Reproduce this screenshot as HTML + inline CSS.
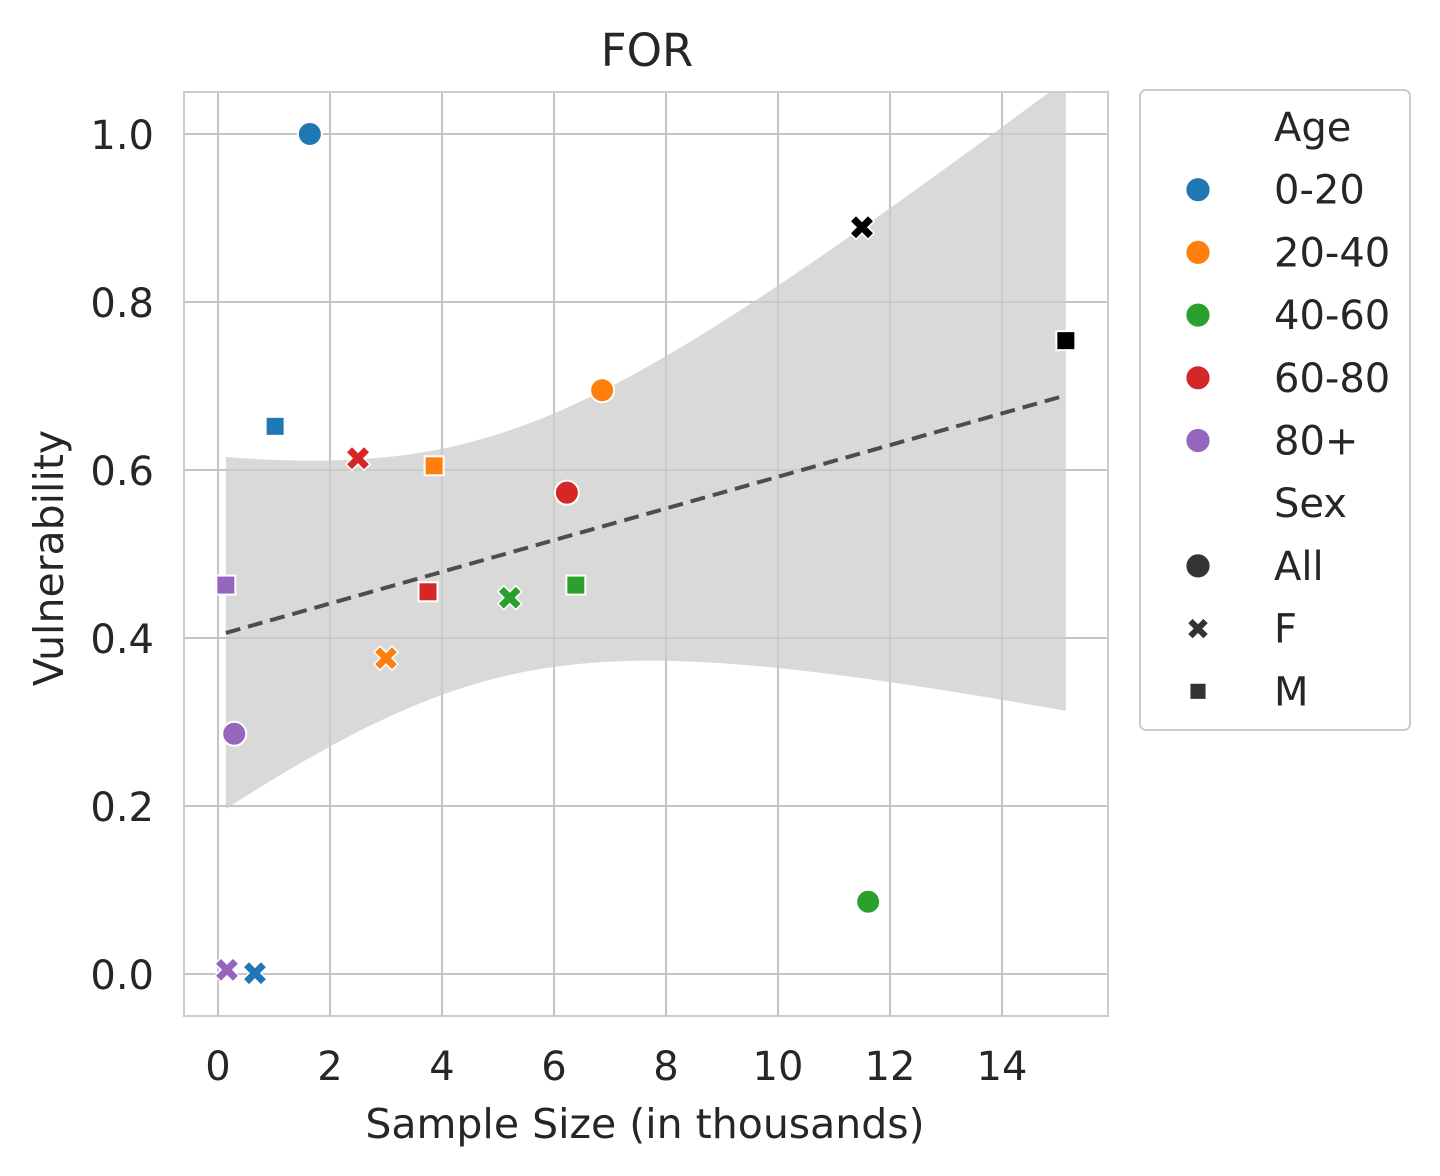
<!DOCTYPE html>
<html><head><meta charset="utf-8"><style>
body{margin:0;background:#fff;}
svg{display:block;font-family:"DejaVu Sans","Liberation Sans",sans-serif;}
</style></head><body>
<svg id="chart" width="1440" height="1176"></svg>
<script>
const groups=["0-20","20-40","40-60","60-80","80+","Overall"];
const groupColors=["#1f77b4","#ff7f0e","#2ca02c","#d62728","#9467bd","#000000"];
const sexes=["All","F","M"];
const pointGroup=[0,0,0,1,1,1,2,2,2,3,3,3,4,4,4,5,5];
const pointSex=["All","M","F","All","M","F","All","F","M","All","F","M","All","M","F","F","M"];
const sampleSize=[1.64,1.02,0.66,6.86,3.86,3.0,11.61,5.21,6.39,6.23,2.5,3.75,0.29,0.14,0.16,11.5,15.14];
const vulnerability=[1.0,0.652,0.001,0.695,0.605,0.376,0.086,0.448,0.463,0.573,0.614,0.455,0.286,0.463,0.005,0.889,0.754];
const xTicks=[0,2,4,6,8,10,12,14];
const yTicks=[0.0,0.2,0.4,0.6,0.8,1.0];

const NS="http://www.w3.org/2000/svg";
const svg=document.getElementById('chart');
function el(t,a,p){const e=document.createElementNS(NS,t);for(const k in a)e.setAttribute(k,a[k]);(p||svg).appendChild(e);return e;}
const L=184,R=1108,T=92,B=1016;
const xs=v=>218+v*56;
const ys=v=>974-v*840;
const defs=el('defs',{});
const cp=el('clipPath',{id:'clip'},defs);el('rect',{x:L,y:T,width:R-L,height:B-T},cp);

xTicks.forEach(t=>{const g=el('line',{x1:xs(t),x2:xs(t),y1:T,y2:B,stroke:'#cccccc','stroke-width':2});

const lb=el('text',{x:xs(t),y:1080,'text-anchor':'middle','font-size':40,fill:'#262626'});lb.textContent=t;
});
yTicks.forEach(t=>{const g=el('line',{x1:L,x2:R,y1:ys(t),y2:ys(t),stroke:'#cccccc','stroke-width':2});

const lb=el('text',{x:154,y:ys(t)+15,'text-anchor':'end','font-size':40,fill:'#262626'});lb.textContent=t.toFixed(1);
});

const n=sampleSize.length;
const mx=sampleSize.reduce((a,b)=>a+b)/n,my=vulnerability.reduce((a,b)=>a+b)/n;
let sxx=0,sxy=0;for(let i=0;i<n;i++){sxx+=(sampleSize[i]-mx)**2;sxy+=(sampleSize[i]-mx)*(vulnerability[i]-my);}
const b1=sxy/sxx,b0=my-b1*mx;
let sse=0;for(let i=0;i<n;i++)sse+=(vulnerability[i]-b0-b1*sampleSize[i])**2;
const s=Math.sqrt(sse/(n-2)),tq=2.131;
const xmin=Math.min(...sampleSize),xmax=Math.max(...sampleSize);
const up=[],lo=[];
for(let k=0;k<=60;k++){const x=xmin+(xmax-xmin)*k/60;const yh=b0+b1*x;const h=tq*s*Math.sqrt(1/n+(x-mx)**2/sxx);
up.push(xs(x)+','+ys(yh+h));lo.push(xs(x)+','+ys(yh-h));}
const band=el('polygon',{points:up.concat(lo.reverse()).join(' '),fill:'#d9d9d9','clip-path':'url(#clip)'});

xTicks.forEach(t=>el('line',{x1:xs(t),x2:xs(t),y1:T,y2:B,stroke:'#bbbbbb','stroke-width':2,'stroke-opacity':0.5}));
yTicks.forEach(t=>el('line',{x1:L,x2:R,y1:ys(t),y2:ys(t),stroke:'#bbbbbb','stroke-width':2,'stroke-opacity':0.5}));
const rl=el('line',{x1:xs(xmin),y1:ys(b0+b1*xmin),x2:xs(xmax),y2:ys(b0+b1*xmax),stroke:'#4d4d4d','stroke-width':4,'stroke-dasharray':'15,8'});

const frame=el('rect',{x:L,y:T,width:R-L,height:B-T,fill:'none',stroke:'#cccccc','stroke-width':2});


function marker(sex,cx,cy,color,parent,scale){
  scale=scale||1;let m;
  if(sex==='All'){m=el('circle',{cx,cy,r:12*scale,fill:color,stroke:'#fff','stroke-width':2},parent);}
  else if(sex==='M'){const h=9.5*scale;m=el('rect',{x:cx-h,y:cy-h,width:2*h,height:2*h,fill:color,stroke:'#fff','stroke-width':2},parent);}
  else{const a=12*scale,w=6*scale;
    const p=[[0,-w],[a-w,-a],[a,-a+w],[w,0],[a,a-w],[a-w,a],[0,w],[-a+w,a],[-a,a-w],[-w,0],[-a,-a+w],[-a+w,-a]].map(q=>(cx+q[0])+','+(cy+q[1])).join(' ');
    m=el('polygon',{points:p,fill:color,stroke:'#fff','stroke-width':1.5},parent);}
  return m;
}
for(let i=0;i<n;i++){const m=marker(pointSex[i],xs(sampleSize[i]),ys(vulnerability[i]),groupColors[pointGroup[i]]);
}

const title=el('text',{x:647,y:66,'text-anchor':'middle','font-size':45,fill:'#262626'});title.textContent='FOR';

const xt=el('text',{x:645,y:1138,'text-anchor':'middle','font-size':41,fill:'#262626'});xt.textContent='Sample Size (in thousands)';

const yt=el('text',{x:63,y:558,'text-anchor':'middle','font-size':41,fill:'#262626',transform:'rotate(-90 63 558)'});yt.textContent='Vulnerability';


const lg=el('g',{});
el('rect',{x:1140,y:90,width:270,height:640,rx:6,fill:'#fff',stroke:'#cccccc','stroke-width':2},lg);
const entries=[['Age',null,null]].concat(groups.slice(0,5).map((g,i)=>[g,'All',groupColors[i]])).concat([['Sex',null,null]]).concat(sexes.map(sx=>[sx,sx,'#333333']));
entries.forEach((e,i)=>{const y=127+i*62.7;
  const t=el('text',{x:1274,y:y+14,'font-size':40,fill:'#262626'},lg);t.textContent=e[0];
  
  if(e[1]){const m=marker(e[1],1198,y,e[2],lg,e[1]==='All'?1.05:0.9);}
});
</script>
</body></html>
